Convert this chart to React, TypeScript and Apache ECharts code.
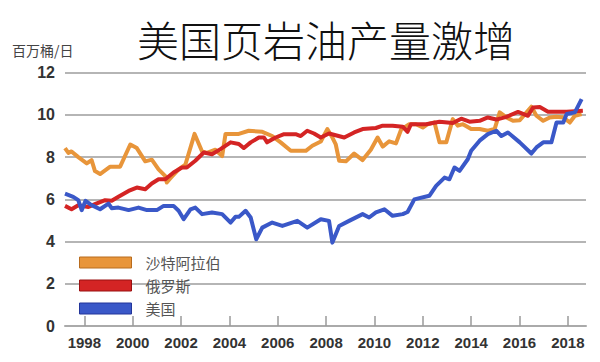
import React, { useEffect, useRef } from "react";
import * as echarts from "echarts";

const title = "美国页岩油产量激增";
const unitLabel = "百万桶/日";
const seriesNames = ["沙特阿拉伯", "俄罗斯", "美国"];
const yearTicks = [1998, 2000, 2002, 2004, 2006, 2008, 2010, 2012, 2014, 2016, 2018];

const saudiYears = [1997.2, 1997.34, 1997.47, 1997.75, 1998.1, 1998.3, 1998.44, 1998.65, 1999.07, 1999.48, 1999.9, 2000.17, 2000.52, 2000.79, 2001.07, 2001.35, 2001.41, 2001.56, 2001.9, 2002.18, 2002.56, 2002.87, 2003.07, 2003.42, 2003.7, 2003.84, 2004.39, 2004.8, 2005.36, 2005.77, 2006.12, 2006.54, 2007.16, 2007.43, 2007.78, 2008.05, 2008.26, 2008.4, 2008.54, 2008.82, 2009.16, 2009.51, 2009.85, 2010.13, 2010.34, 2010.61, 2010.89, 2011.1, 2011.44, 2011.72, 2012.0, 2012.2, 2012.48, 2012.69, 2012.97, 2013.24, 2013.45, 2013.66, 2014.0, 2014.35, 2014.69, 2014.97, 2015.18, 2015.46, 2015.73, 2016.01, 2016.29, 2016.49, 2016.7, 2016.98, 2017.25, 2017.53, 2017.81, 2018.08, 2018.29, 2018.57];
const saudiValues = [8.43, 8.2, 8.27, 8.0, 7.7, 7.86, 7.34, 7.2, 7.55, 7.55, 8.6, 8.43, 7.8, 7.88, 7.42, 7.1, 6.8, 7.0, 7.42, 7.65, 9.1, 8.27, 8.2, 8.35, 8.05, 9.1, 9.1, 9.25, 9.2, 9.0, 8.7, 8.3, 8.3, 8.54, 8.74, 9.33, 8.93, 8.6, 7.83, 7.8, 8.17, 7.86, 8.35, 8.93, 8.5, 8.75, 8.65, 9.3, 9.56, 9.56, 9.4, 9.56, 9.65, 8.7, 8.7, 9.8, 9.49, 9.56, 9.33, 9.33, 9.25, 9.33, 10.12, 9.88, 9.72, 9.75, 10.12, 10.39, 9.96, 9.72, 9.88, 9.91, 9.88, 9.64, 9.96, 10.04];

const russiaYears = [1997.2, 1997.47, 1997.75, 1998.17, 1998.44, 1998.86, 1999.13, 1999.41, 1999.83, 2000.17, 2000.52, 2000.79, 2001.07, 2001.35, 2001.69, 2002.04, 2002.24, 2002.59, 2002.94, 2003.28, 2003.63, 2004.05, 2004.39, 2004.6, 2004.88, 2005.22, 2005.43, 2005.56, 2005.91, 2006.26, 2006.74, 2006.95, 2007.22, 2007.5, 2007.78, 2008.12, 2008.75, 2009.16, 2009.51, 2010.06, 2010.34, 2010.75, 2011.17, 2011.37, 2011.51, 2012.14, 2012.69, 2013.24, 2013.59, 2013.93, 2014.35, 2014.69, 2015.04, 2015.46, 2015.94, 2016.35, 2016.56, 2016.84, 2017.18, 2017.95, 2018.62];
const russiaValues = [5.69, 5.53, 5.72, 5.64, 5.77, 5.96, 5.93, 6.12, 6.4, 6.56, 6.48, 6.75, 6.95, 6.95, 7.27, 7.51, 7.51, 7.83, 8.22, 8.14, 8.38, 8.7, 8.62, 8.43, 8.7, 8.93, 8.93, 8.7, 8.93, 9.09, 9.09, 9.0, 9.25, 9.12, 8.93, 9.12, 8.93, 9.17, 9.33, 9.38, 9.49, 9.49, 9.44, 9.2, 9.56, 9.56, 9.68, 9.62, 9.82, 9.68, 9.72, 9.88, 9.78, 9.91, 10.14, 9.96, 10.35, 10.37, 10.15, 10.15, 10.2];

const usYears = [1997.2, 1997.54, 1997.75, 1997.89, 1998.05, 1998.24, 1998.37, 1998.65, 1999.0, 1999.13, 1999.41, 1999.83, 2000.24, 2000.59, 2001.0, 2001.28, 2001.69, 2001.9, 2002.11, 2002.39, 2002.59, 2002.87, 2003.28, 2003.7, 2004.05, 2004.25, 2004.39, 2004.67, 2004.88, 2005.11, 2005.36, 2005.77, 2006.19, 2006.81, 2007.22, 2007.78, 2008.12, 2008.26, 2008.54, 2008.95, 2009.51, 2009.78, 2010.06, 2010.41, 2010.75, 2011.17, 2011.37, 2011.65, 2012.27, 2012.55, 2012.9, 2013.1, 2013.31, 2013.52, 2013.86, 2014.0, 2014.35, 2014.69, 2015.04, 2015.25, 2015.52, 2016.01, 2016.49, 2016.7, 2016.98, 2017.32, 2017.53, 2017.81, 2017.95, 2018.29, 2018.57];
const usValues = [6.27, 6.12, 5.96, 5.49, 5.93, 5.77, 5.69, 5.53, 5.8, 5.58, 5.61, 5.49, 5.61, 5.49, 5.49, 5.69, 5.69, 5.46, 5.06, 5.53, 5.61, 5.3, 5.38, 5.3, 4.9, 5.17, 5.17, 5.46, 5.14, 4.11, 4.66, 4.9, 4.74, 4.98, 4.66, 5.06, 4.98, 3.95, 4.74, 4.98, 5.3, 5.14, 5.38, 5.53, 5.22, 5.3, 5.4, 6.0, 6.17, 6.64, 7.03, 6.95, 7.51, 7.35, 7.9, 8.3, 8.78, 9.09, 9.25, 9.0, 9.17, 8.7, 8.17, 8.46, 8.7, 8.7, 9.64, 9.64, 10.04, 10.12, 10.75];

const colors = ["#e8953a", "#d42424", "#3a58c8"];
const borderColors = ["#b86c1e", "#9a1010", "#23359a"];

const pair = (xs: number[], ys: number[]) => xs.map((x, i) => [x, ys[i]]);

export default function App() {
  const ref = useRef<HTMLDivElement>(null);
  useEffect(() => {
    if (!ref.current) return;
    const chart = echarts.init(ref.current, undefined, { renderer: "svg" });
    const numFont = "'Liberation Sans', Arial, sans-serif";
    const cjkFont = "'Noto Sans CJK SC', sans-serif";
    const data = [pair(saudiYears, saudiValues), pair(russiaYears, russiaValues), pair(usYears, usValues)];
    chart.setOption({
      animation: false,
      backgroundColor: "#ffffff",
      graphic: [
        {
          type: "text",
          left: 137,
          top: 17,
          style: { text: title, font: `300 42px ${cjkFont}`, fill: "#111" },
        },
        {
          type: "text",
          left: 12,
          top: 43,
          style: { text: unitLabel, font: `14px ${cjkFont}`, fill: "#444" },
        },
      ],
      legend: {
        orient: "vertical",
        left: 74,
        top: 250,
        itemWidth: 52,
        itemHeight: 11,
        itemGap: 8,
        icon: "rect",
        textStyle: { fontFamily: cjkFont, fontSize: 15, color: "#555", padding: [0, 0, 0, 9] },
        data: seriesNames.map((n, i) => ({
          name: n,
          itemStyle: { color: colors[i], borderColor: borderColors[i], borderWidth: 1 },
        })),
      },
      grid: { left: 65, right: 14, top: 72.7, bottom: 36, containLabel: false },
      xAxis: {
        type: "value",
        min: 1997.2,
        max: 2018.75,
        splitLine: { show: false },
        axisLine: { show: true, lineStyle: { color: "#aaaaaa", width: 2 } },
        axisTick: {
          show: true,
          inside: true,
          length: 10,
          customValues: yearTicks,
          lineStyle: { color: "#9a9a9a", width: 1.5 },
        },
        axisLabel: {
          customValues: yearTicks,
          formatter: (v: number) => String(Math.round(v)),
          fontFamily: numFont,
          fontWeight: "bold",
          fontSize: 15,
          color: "#333",
          margin: 9,
        },
      },
      yAxis: {
        type: "value",
        min: 0,
        max: 12,
        interval: 2,
        axisLine: { show: false },
        axisTick: { show: false },
        splitLine: { show: true, lineStyle: { color: "#b5b5b5", width: 2 } },
        axisLabel: {
          fontFamily: numFont,
          fontWeight: "bold",
          fontSize: 16,
          color: "#333",
          margin: 10,
        },
      },
      series: seriesNames.map((n, i) => ({
        name: n,
        type: "line",
        data: data[i],
        showSymbol: false,
        symbol: "none",
        lineStyle: { color: colors[i], width: 4, join: "round" },
        itemStyle: { color: colors[i] },
        z: 2 + i,
      })),
    });
    return () => chart.dispose();
  }, []);
  return <div ref={ref} style={{ width: 600, height: 362, position: "absolute", left: 0, top: 0 }} />;
}
